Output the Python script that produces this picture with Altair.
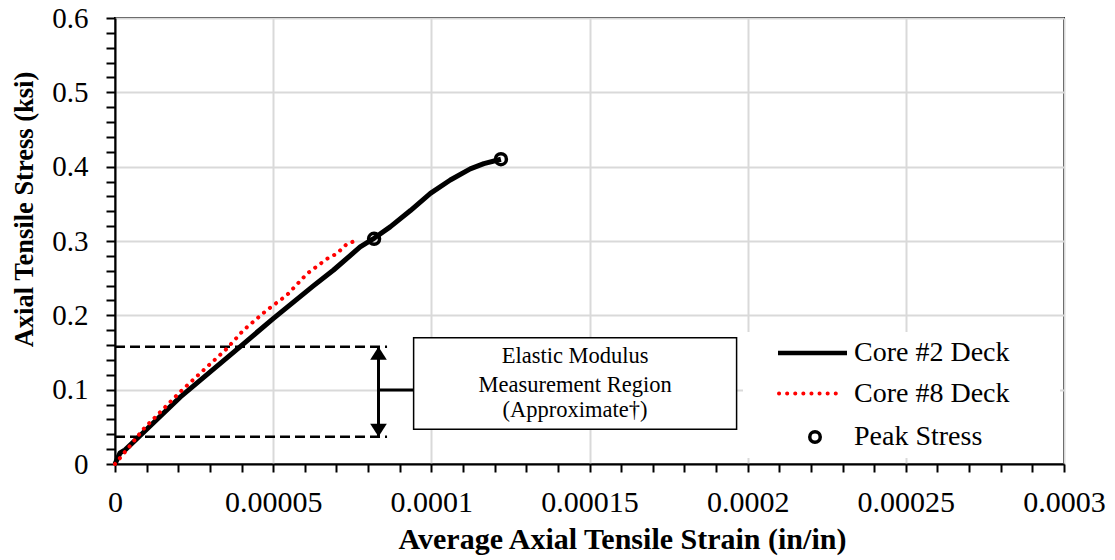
import altair as alt
import pandas as pd

# ---------------- data ----------------
core2_strain = [0.0, 0.0000016, 0.0000032, 0.0000079, 0.0000206, 0.0000269, 0.0000396,
                0.0000501, 0.0000628, 0.0000691, 0.0000775, 0.0000820, 0.0000870,
                0.0000934, 0.0000997, 0.0001060, 0.0001123, 0.0001166, 0.0001220]
core2_stress = [0.0, 0.015, 0.019, 0.038, 0.090, 0.1125, 0.158,
                0.196, 0.240, 0.261, 0.292, 0.304, 0.319,
                0.341, 0.364, 0.382, 0.397, 0.404, 0.410]

core8_strain = [0.0, 0.0000037, 0.0000090, 0.0000206, 0.0000269, 0.0000353, 0.0000406,
                0.0000480, 0.0000543, 0.0000607, 0.0000670, 0.0000701, 0.0000733, 0.0000765]
core8_stress = [0.0, 0.019, 0.047, 0.097, 0.122, 0.155, 0.180,
                0.207, 0.227, 0.256, 0.276, 0.283, 0.296, 0.301]

peak_strain = [0.0000819, 0.0001220]
peak_stress = [0.303, 0.410]

region_stress = [0.1577, 0.0367]      # dashed limits of the modulus region
region_strain_end = 0.000086
arrow_strain = 0.0000833
connector_stress = 0.0995
box_strain = [0.0000944, 0.0001965]
box_stress = [0.0466, 0.170]
box_lines = ["Elastic Modulus", "Measurement Region", "(Approximate\u2020)"]
box_line_stress = [0.1456, 0.1062, 0.0726]

legend_labels = ["Core #2 Deck", "Core #8 Deck", "Peak Stress"]

x_ticks = [round(i * 0.00001, 5) for i in range(31)]
y_ticks = [round(i * 0.02, 2) for i in range(31)]

FONT = "Liberation Serif"

# ---------------- scales / axes ----------------
xscale = alt.Scale(domain=[0, 0.0003], nice=False, zero=False)
yscale = alt.Scale(domain=[0, 0.6], nice=False, zero=False)

xaxis = alt.Axis(
    values=x_ticks,
    title="Average Axial Tensile Strain (in/in)",
    labelExpr="round(datum.value*1e5) % 5 === 0 ? format(datum.value, '~f') : ''",
    labelOverlap=False, labelFlush=False, labelBound=False,
    labelFont=FONT, labelFontSize=30, labelColor="black", labelPadding=15,
    tickSize=8, tickColor="black", tickWidth=2,
    domainColor="black", domainWidth=2,
    grid=True, gridColor="#d9d9d9", gridWidth=2,
    gridOpacity={"condition": {"test": "round(datum.value*1e5) % 5 === 0", "value": 1}, "value": 0},
    titleFont=FONT, titleFontSize=30, titleFontWeight="bold", titleColor="black",
    titleX=507, titleY=84, titleAlign="center", titleBaseline="alphabetic",
)
yaxis = alt.Axis(
    values=y_ticks,
    title="Axial Tensile Stress (ksi)",
    labelExpr="round(datum.value*50) % 5 === 0 ? format(datum.value, '~f') : ''",
    labelOverlap=False, labelFlush=False, labelBound=False,
    labelFont=FONT, labelFontSize=29, labelColor="black", labelPadding=18,
    tickSize=9, tickColor="black", tickWidth=2,
    domainColor="black", domainWidth=2,
    grid=True, gridColor="#d9d9d9", gridWidth=2,
    gridOpacity={"condition": {"test": "round(datum.value*50) % 5 === 0", "value": 1}, "value": 0},
    titleFont=FONT, titleFontSize=26.5, titleFontWeight="bold", titleColor="black",
    titleAngle=270, titleX=-83, titleY=191, titleAlign="center", titleBaseline="alphabetic",
)


def X(field):
    return alt.X(f"{field}:Q", scale=xscale, axis=xaxis)


def Y(field):
    return alt.Y(f"{field}:Q", scale=yscale, axis=yaxis)


# ---------------- tables ----------------
df2 = pd.DataFrame({"strain": core2_strain, "stress": core2_stress, "i": range(len(core2_strain))})
df8 = pd.DataFrame({"strain": core8_strain, "stress": core8_stress, "i": range(len(core8_strain))})
dfp = pd.DataFrame({"strain": peak_strain, "stress": peak_stress})
dfd = pd.DataFrame({"strain": [0.0] * 2, "strain2": [region_strain_end] * 2, "stress": region_stress})
dfa = pd.DataFrame({"strain": [arrow_strain], "stress": [region_stress[1]], "stress2": [region_stress[0]]})
dfc = pd.DataFrame({"strain": [arrow_strain], "strain2": [box_strain[0]], "stress": [connector_stress]})
dfb = pd.DataFrame({"strain": [box_strain[0]], "strain2": [box_strain[1]],
                    "stress": [box_stress[0]], "stress2": [box_stress[1]]})
dft = pd.DataFrame({"strain": [(box_strain[0] + box_strain[1]) / 2] * 3,
                    "stress": box_line_stress, "label": box_lines})
dfup = pd.DataFrame({"strain": [arrow_strain], "stress": [region_stress[0]]})
dfdn = pd.DataFrame({"strain": [arrow_strain], "stress": [region_stress[1]]})

# ---------------- layers ----------------
dashed = alt.Chart(dfd).mark_rule(color="black", strokeWidth=2.5, strokeDash=[10, 5]).encode(
    x=X("strain"), x2="strain2", y=Y("stress"))

line2 = alt.Chart(df2).mark_line(color="black", strokeWidth=5, strokeJoin="round").encode(
    x=X("strain"), y=Y("stress"), order="i:Q")
line8 = alt.Chart(df8).mark_line(color="red", strokeWidth=4, strokeDash=[0.1, 7.5],
                                 strokeCap="round").encode(
    x=X("strain"), y=Y("stress"), order="i:Q")
peaks = alt.Chart(dfp).mark_point(shape="circle", size=120, color="black", strokeWidth=3.5,
                                  filled=False, opacity=1).encode(x=X("strain"), y=Y("stress"))

shaft = alt.Chart(dfa).mark_rule(color="black", strokeWidth=3).encode(
    x=X("strain"), y=Y("stress"), y2="stress2")
head_up = alt.Chart(dfup).mark_point(shape="M0,0L0.64,1L-0.64,1Z", size=676, filled=True,
                                     color="black", opacity=1).encode(x=X("strain"), y=Y("stress"))
head_dn = alt.Chart(dfdn).mark_point(shape="M0,0L0.64,-1L-0.64,-1Z", size=676, filled=True,
                                     color="black", opacity=1).encode(x=X("strain"), y=Y("stress"))
connector = alt.Chart(dfc).mark_rule(color="black", strokeWidth=3).encode(
    x=X("strain"), x2="strain2", y=Y("stress"))
box = alt.Chart(dfb).mark_rect(fill="white", stroke="black", strokeWidth=1.5).encode(
    x=X("strain"), x2="strain2", y=Y("stress"), y2="stress2")
box_text = alt.Chart(dft).mark_text(font=FONT, fontSize=22.5, color="black", align="center",
                                    baseline="middle").encode(
    x=X("strain"), y=Y("stress"), text="label:N")

# legend (drawn by hand)
one = pd.DataFrame({"k": [0]})
leg_bg = alt.Chart(one).mark_rect(fill="white", stroke=None).encode(
    x=alt.value(628), x2=alt.value(945), y=alt.value(314), y2=alt.value(440))
leg_l1 = alt.Chart(one).mark_rule(color="black", strokeWidth=4.5).encode(
    x=alt.value(663), x2=alt.value(732), y=alt.value(335))
leg_l2 = alt.Chart(one).mark_rule(color="red", strokeWidth=4, strokeDash=[0.1, 8],
                                  strokeCap="round").encode(
    x=alt.value(664), x2=alt.value(724), y=alt.value(375.6))
leg_pt = alt.Chart(one).mark_point(shape="circle", size=110, color="black", strokeWidth=3.5,
                                   filled=False, opacity=1).encode(x=alt.value(700), y=alt.value(419))
leg_texts = []
for lab, yy in zip(legend_labels, [335, 375.6, 419]):
    leg_texts.append(
        alt.Chart(pd.DataFrame({"label": [lab]})).mark_text(
            font=FONT, fontSize=28, color="black", align="left", baseline="middle").encode(
            x=alt.value(739), y=alt.value(yy), text="label:N"))

chart = alt.layer(
    dashed, line2, line8, peaks, shaft, head_up, head_dn, connector, box, box_text,
    leg_bg, leg_l1, leg_l2, leg_pt, *leg_texts
).properties(
    width=949, height=446,
    autosize=alt.AutoSizeParams(type="none"),
    padding={"left": 107, "top": 10, "right": 43, "bottom": 95},
    background="white",
).configure_view(stroke="black", strokeWidth=2)

chart.save("out.html", embed_options={"renderer": "svg", "actions": False})
